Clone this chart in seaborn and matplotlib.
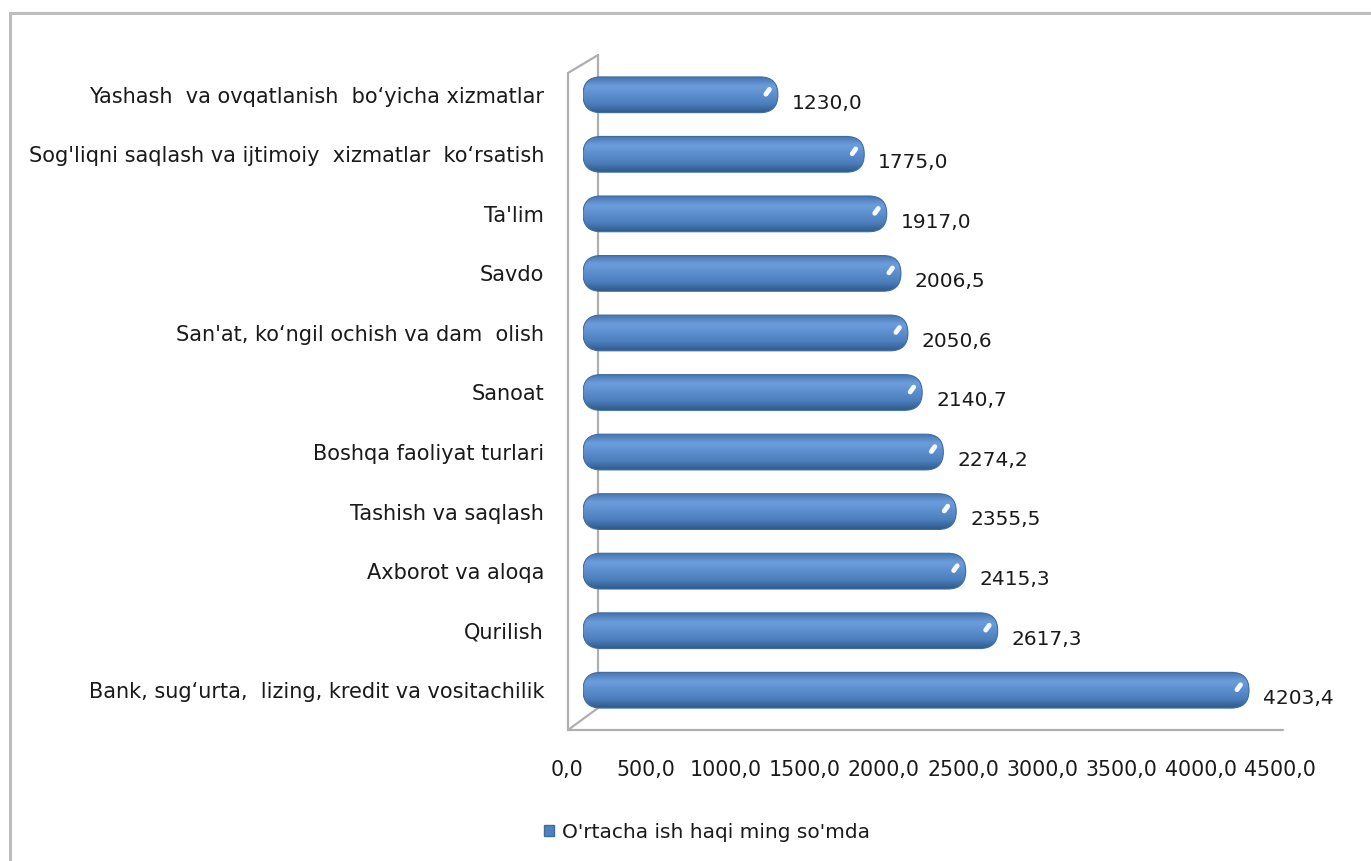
import matplotlib
matplotlib.use("Agg")
import matplotlib.pyplot as plt
import numpy as np
import pandas as pd
import seaborn as sns
from matplotlib.colors import LinearSegmentedColormap
from matplotlib.lines import Line2D
from matplotlib.patches import FancyBboxPatch, Rectangle
from matplotlib.transforms import ScaledTranslation

# chart data (top to bottom as shown)
categories = [
    "Yashash  va ovqatlanish  bo‘yicha xizmatlar",
    "Sog'liqni saqlash va ijtimoiy  xizmatlar  ko‘rsatish",
    "Ta'lim",
    "Savdo",
    "San'at, ko‘ngil ochish va dam  olish",
    "Sanoat",
    "Boshqa faoliyat turlari",
    "Tashish va saqlash",
    "Axborot va aloqa",
    "Qurilish",
    "Bank, sug‘urta,  lizing, kredit va vositachilik",
]
values = [1230.0, 1775.0, 1917.0, 2006.5, 2050.6, 2140.7, 2274.2, 2355.5, 2415.3, 2617.3, 4203.4]
x_ticks = [0, 500, 1000, 1500, 2000, 2500, 3000, 3500, 4000, 4500]
legend_label = "O'rtacha ish haqi ming so'mda"


def comma(v):
    return f"{v:.1f}".replace(".", ",")


sns.set_style("white")
plt.rcParams["font.family"] = ["DejaVu Sans"]

W, H = 1371, 861
fig = plt.figure(figsize=(W / 100, H / 100), dpi=100)


def px(x, y):
    return x / W, 1 - y / H


# outer frame and 3d wall lines
fig.add_artist(Rectangle(px(10, 880), 1.2, (880 - 13) / H, transform=fig.transFigure,
                         fill=False, edgecolor="#BDBDBD", lw=2.2, zorder=-2))
wall = [((568, 73), (568, 730)), ((568, 73), (598, 55)), ((598, 55), (598, 708)),
        ((568, 730), (598, 708)), ((568, 730), (1283, 730))]
for (x0, y0), (x1, y1) in wall:
    a, b = px(x0, y0), px(x1, y1)
    fig.add_artist(Line2D([a[0], b[0]], [a[1], b[1]], transform=fig.transFigure,
                          color="#AFAFAF", lw=1.6, zorder=-1))

ax = fig.add_axes([583 / W, 1 - 720 / H, 713 / W, 655 / H])
ax.patch.set_visible(False)

df = pd.DataFrame({"category": categories, "value": values})
sns.barplot(data=df, x="value", y="category", color="#4F81BD", width=0.6,
            saturation=1, orient="h", ax=ax)

# turn flat bars into shaded cylinders
grad = LinearSegmentedColormap.from_list(
    "cyl", ["#4676AF", "#6D9EDC", "#5B8ECE", "#4C7EBC", "#2F5B8C"])
shade = np.linspace(0, 1, 64).reshape(-1, 1)
x_per_px = 4500 / 713
y_per_px = 11 / 655
for bar in list(ax.patches):
    x0, y0, w, h = bar.get_x(), bar.get_y(), bar.get_width(), bar.get_height()
    bar.set_visible(False)
    body = FancyBboxPatch((x0, y0), w, h,
                          boxstyle=f"round,pad=0,rounding_size={17.8 * x_per_px}",
                          mutation_aspect=y_per_px / x_per_px,
                          facecolor="none", edgecolor="#3F6C9F", lw=0.8, zorder=3)
    ax.add_patch(body)
    im = ax.imshow(shade, cmap=grad, extent=(x0, x0 + w, y0 + h, y0),
                   aspect="auto", origin="upper", zorder=2, interpolation="bicubic")
    im.set_clip_path(body)
    # small glossy highlight near the end cap
    xe = x0 + w - 10 * x_per_px
    yc = y0 + h / 2
    ax.plot([xe - 2 * x_per_px, xe + 1.5 * x_per_px], [yc - 0.01, yc - 0.09],
            color="white", lw=3.5, solid_capstyle="round", alpha=0.95, zorder=4)

for i, v in enumerate(values):
    ax.annotate(comma(v), xy=(v, i), xytext=(10, -6), textcoords="offset points",
                ha="left", va="center", fontsize=14.5, color="#1A1A1A")

ax.set_xlim(0, 4500)
ax.set_ylim(10.5, -0.5)
ax.set_xticks(x_ticks)
ax.set_xticklabels([comma(t) for t in x_ticks])
ax.set_xlabel("")
ax.set_ylabel("")
ax.tick_params(axis="x", length=0, pad=29, labelsize=14.8, labelcolor="#1A1A1A")
ax.tick_params(axis="y", length=0, pad=28, labelsize=15, labelcolor="#1A1A1A")
shift = ScaledTranslation(-16 / 100, 0, fig.dpi_scale_trans)
for lab in ax.get_xticklabels():
    lab.set_transform(lab.get_transform() + shift)
sns.despine(ax=ax, left=True, bottom=True)

handle = Rectangle((0, 0), 1, 1, facecolor="#4F81BD", edgecolor="#3F6C9F")
fig.legend([handle], [legend_label], loc="center", bbox_to_anchor=px(707, 832),
           frameon=False, fontsize=14.5, handlelength=0.45, handleheight=0.45,
           handletextpad=0.4, labelcolor="#1A1A1A")

fig.savefig("out.png", dpi=100)
